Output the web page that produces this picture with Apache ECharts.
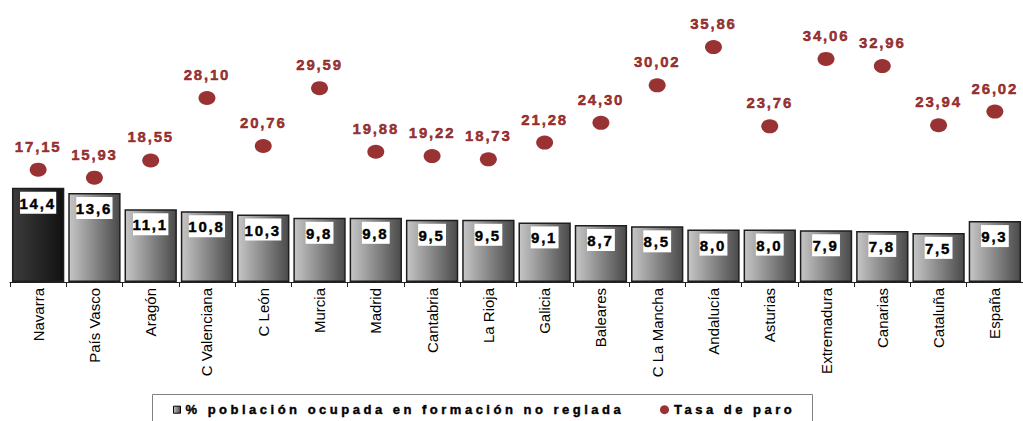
<!DOCTYPE html>
<html>
<head>
<meta charset="utf-8">
<script src="https://cdn.jsdelivr.net/npm/echarts@6/dist/echarts.min.js"></script>
<style>
html,body{margin:0;padding:0;background:#fff;}
#chart{width:1023px;height:421px;}
svg text[fill="#800000"]{letter-spacing:1.8px;}
svg text[fill="#000000"]{letter-spacing:1.8px;}
svg text[fill="#010101"]{letter-spacing:3.5px;}
</style>
</head>
<body>
<div id="chart"></div>
<script>
const categories = ['Navarra','País Vasco','Aragón','C Valenciana','C León','Murcia','Madrid','Cantabria','La Rioja','Galicia','Baleares','C La Mancha','Andalucía','Asturias','Extremadura','Canarias','Cataluña','España'];
const formacionValues = [14.4,13.6,11.1,10.8,10.3,9.8,9.8,9.5,9.5,9.1,8.7,8.5,8.0,8.0,7.9,7.8,7.5,9.3];
const paroValues = [17.15,15.93,18.55,28.10,20.76,29.59,19.88,19.22,18.73,21.28,24.30,30.02,35.86,23.76,34.06,32.96,23.94,26.02];
const seriesNames = ['% población ocupada en formación no reglada','Tasa de paro'];

const FONT = '"Liberation Sans", Arial, sans-serif';
const lightGrad = new echarts.graphic.LinearGradient(0,0,1,0,[{offset:0,color:'#c6c6c6'},{offset:1,color:'#4a4a4a'}]);
const darkGrad = new echarts.graphic.LinearGradient(0,0,1,0,[{offset:0,color:'#3c3c3c'},{offset:1,color:'#111111'}]);

const barData = formacionValues.map((v,i)=> i===0 ? {value:v, itemStyle:{color:darkGrad}} : v);

const chart = echarts.init(document.getElementById('chart'), null, {renderer:'svg'});
chart.setOption({
  animation:false,
  backgroundColor:'#ffffff',
  grid:{left:10, width:1015, top:20, bottom:139, containLabel:false},
  xAxis:{
    type:'category', data:categories,
    axisLine:{show:true, lineStyle:{color:'#222', width:1}},
    axisTick:{show:true, alignWithLabel:false, length:5, lineStyle:{color:'#222'}},
    axisLabel:{interval:0, rotate:90, margin:6, fontSize:15, color:'#020202', fontFamily:FONT}
  },
  yAxis:{type:'value', min:0, max:40, show:false, splitLine:{show:false}},
  legend:[
    {data:[seriesNames[0]], left:173, top:403, padding:0, icon:'rect', itemWidth:7, itemHeight:7, selectedMode:false,
     itemStyle:{color:lightGrad, borderColor:'#000', borderWidth:1},
     textStyle:{fontSize:13, fontWeight:'bold', color:'#010101', fontFamily:FONT, textBorderColor:'#010101', textBorderWidth:0.4}},
    {data:[seriesNames[1]], left:660, top:403, padding:0, icon:'circle', itemWidth:9, itemHeight:9, selectedMode:false,
     textStyle:{fontSize:13, fontWeight:'bold', color:'#010101', fontFamily:FONT, textBorderColor:'#010101', textBorderWidth:0.4}}
  ],
  graphic:[{type:'rect', shape:{x:152.5, y:394.5, width:660, height:40}, style:{fill:'none', stroke:'#808080', lineWidth:1}, silent:true}],
  series:[
    {
      name:seriesNames[0], type:'bar', data:barData, barCategoryGap:'7%',
      itemStyle:{color:lightGrad, borderColor:'#1e1e1e', borderWidth:1.5},
      label:{show:true, position:'insideTop', distance:4, fontSize:15, fontWeight:'bold', color:'#000000', fontFamily:FONT,
        textBorderColor:'#000000', textBorderWidth:0.4,
        backgroundColor:'#ffffff', padding:[4,4,3,3],
        formatter:p=>p.value.toFixed(1).replace('.',',')}
    },
    {
      name:seriesNames[1], type:'scatter', data:paroValues, symbol:'circle', symbolSize:[17,14],
      itemStyle:{color:'#800000'},
      label:{show:true, position:'top', distance:9, fontSize:15, fontWeight:'bold', color:'#800000', fontFamily:FONT,
        textBorderColor:'#800000', textBorderWidth:0.5,
        formatter:p=>p.value.toFixed(2).replace('.',',')}
    }
  ]
});
</script>
</body>
</html>
